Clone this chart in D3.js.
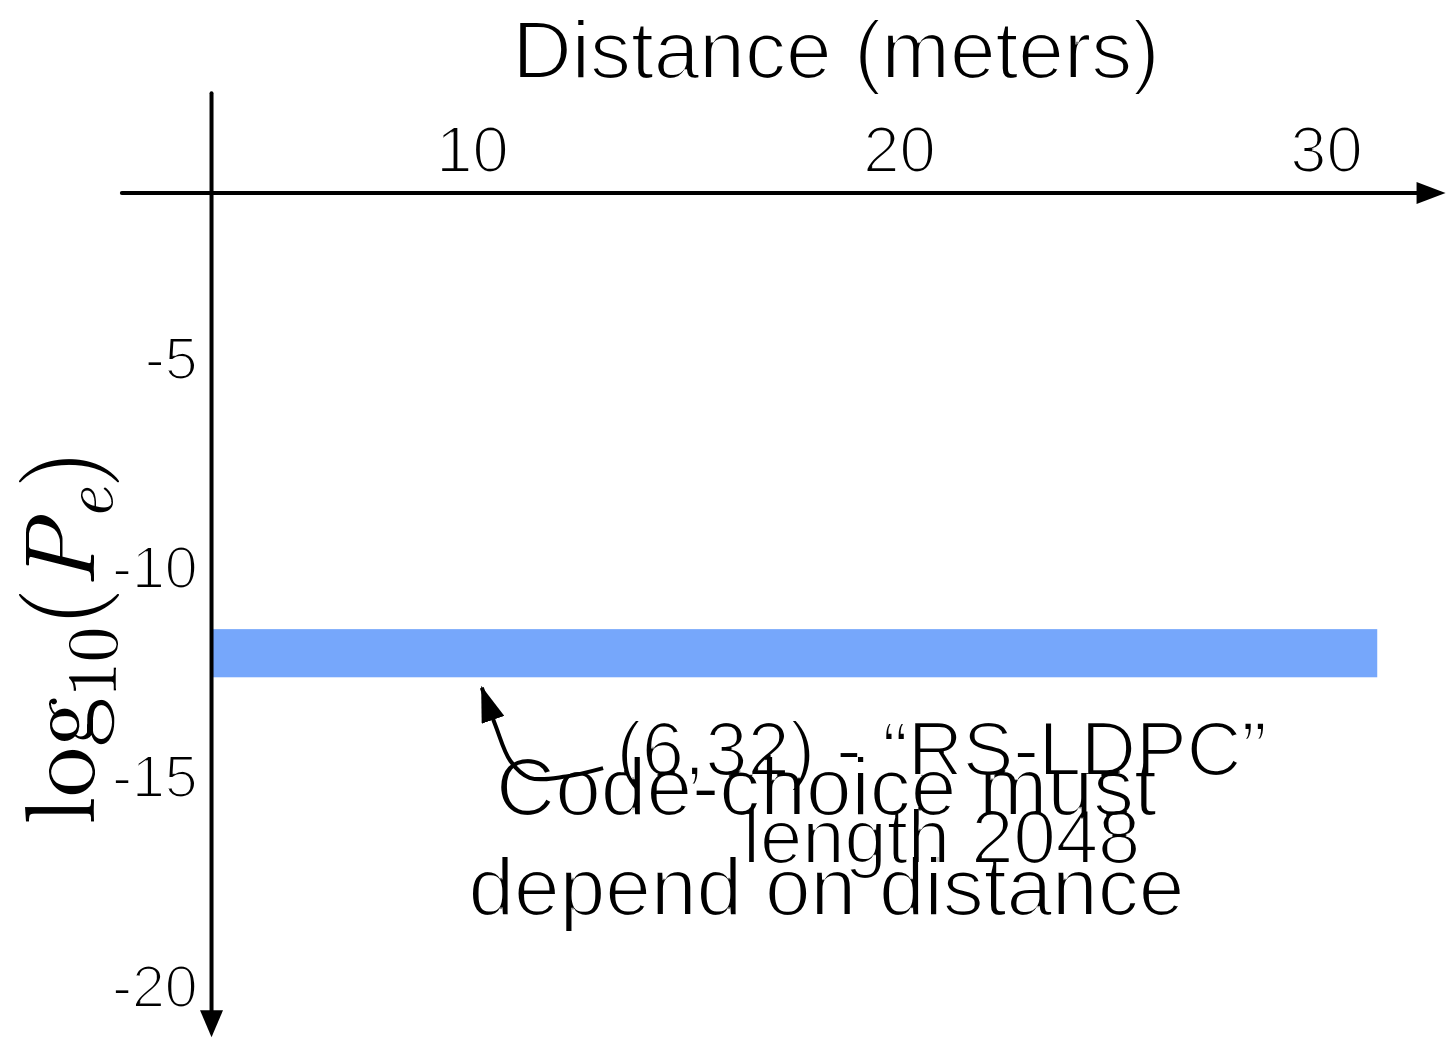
<!DOCTYPE html>
<html>
<head>
<meta charset="utf-8">
<script src="https://cdn.jsdelivr.net/npm/d3@7"></script>
<style>
  html, body { margin: 0; padding: 0; background: #fff; }
  svg { display: block; }
  .sans { font-family: "Helvetica Neue", Helvetica, "Liberation Sans", Arial, sans-serif; fill: #000; }
</style>
</head>
<body>
<svg id="chart" width="1450" height="1039"></svg>
<script>
// ---- data ----
const xTicks = [10, 20, 30];
const yTicks = [-5, -10, -15, -20];
const xTitle = "Distance (meters)";
// blue band: distance range and log10(Pe) range
const bandX = [3.9, 31.2];
const bandY = [-11.5, -12.65];
// axis extents (data units) and crossing values
const xAxisExtent = [1.8, 32.8];
const yAxisExtent = [1.3, -21.2];
const xAxisAtY = -1.08;
const yAxisAtX = 3.9;
// annotation arrow path (data units)
const arrowX = [13.07, 12.2, 11.35, 10.9, 10.55, 10.23];
const arrowY = [-14.82, -15.02, -15.05, -14.65, -13.8, -12.9];
const label1 = ["(6,32) - \u201CRS-LDPC\u201D", "length 2048"];
const label1Pos = [21.0, -14.98];
const label2 = ["Code-choice must", "depend on distance"];
const label2Pos = [18.3, -15.94];

const svg = d3.select("#chart");
const x = d3.scaleLinear().domain([10, 30]).range([472, 1326]);
const y = d3.scaleLinear().domain([-5, -20]).range([357, 985]);

const defs = svg.append("defs");
const thin = defs.append("filter").attr("id", "thin")
  .attr("x", "-5%").attr("y", "-5%").attr("width", "110%").attr("height", "110%");
thin.append("feMorphology").attr("operator", "erode").attr("radius", 0.9);

// band
svg.append("rect")
  .attr("x", x(bandX[0])).attr("width", x(bandX[1]) - x(bandX[0]))
  .attr("y", y(bandY[0])).attr("height", y(bandY[1]) - y(bandY[0]))
  .attr("fill", "#76a7fb");

// axis lines with arrowheads
const ax0 = y(xAxisAtY), ay0 = x(yAxisAtX);
svg.append("line")
  .attr("x1", x(xAxisExtent[0])).attr("x2", x(xAxisExtent[1]) - 20)
  .attr("y1", ax0).attr("y2", ax0)
  .attr("stroke", "#000").attr("stroke-width", 4).attr("stroke-linecap", "round");
const xEnd = x(xAxisExtent[1]);
svg.append("path")
  .attr("d", `M${xEnd},${ax0} L${xEnd - 29},${ax0 - 11} L${xEnd - 29},${ax0 + 11} Z`)
  .attr("fill", "#000");
svg.append("line")
  .attr("x1", ay0).attr("x2", ay0)
  .attr("y1", y(yAxisExtent[0])).attr("y2", y(yAxisExtent[1]) - 20)
  .attr("stroke", "#000").attr("stroke-width", 4).attr("stroke-linecap", "round");
const yEnd = y(yAxisExtent[1]);
svg.append("path")
  .attr("d", `M${ay0},${yEnd + 2} L${ay0 - 11.5},${yEnd - 25} L${ay0 + 11.5},${yEnd - 25} Z`)
  .attr("fill", "#000");

// text layer (thinned to mimic a light face)
const tl = svg.append("g").attr("filter", "url(#thin)");

// tick labels via d3 axes
const gx = tl.append("g").attr("transform", `translate(0,${ax0})`)
  .call(d3.axisTop(x).tickValues(xTicks).tickSize(0).tickPadding(21).tickFormat(d => String(d)));
gx.select(".domain").remove();
gx.selectAll("text").attr("class", "sans").style("font-size", "65px").attr("fill", "#000");

const gy = tl.append("g").attr("transform", `translate(${ay0},0)`)
  .call(d3.axisLeft(y).tickValues(yTicks).tickSize(0).tickPadding(14).tickFormat(d => String(d)));
gy.select(".domain").remove();
gy.selectAll("text").attr("class", "sans").style("font-size", "59px").attr("fill", "#000").attr("dy", "0.36em");

// title
tl.append("text").attr("class", "sans")
  .attr("x", 836).attr("y", 78).attr("text-anchor", "middle")
  .style("font-size", "82px").text(xTitle);

// annotation labels
const t1 = tl.append("text").attr("class", "sans").attr("text-anchor", "middle")
  .style("font-size", "76px");
label1.forEach((s, i) => t1.append("tspan").attr("x", x(label1Pos[0]))
  .attr("y", y(label1Pos[1]) + i * 88).text(s));
const t2 = tl.append("text").attr("class", "sans").attr("text-anchor", "middle")
  .style("font-size", "82px");
label2.forEach((s, i) => t2.append("tspan").attr("x", x(label2Pos[0]))
  .attr("y", y(label2Pos[1]) + i * 100).text(s));

// y-axis label (LaTeX-like)
const yl = svg.append("text")
  .attr("transform", "translate(94,637) rotate(-90)")
  .attr("text-anchor", "middle")
  .style("font-family", "'Latin Modern Roman', 'CMU Serif', 'Liberation Serif', 'DejaVu Serif', serif")
  .style("font-size", "100px").attr("fill", "#000");
yl.append("tspan").text("log");
yl.append("tspan").attr("dy", 22).style("font-size", "70px").text("10");
yl.append("tspan").attr("dy", -22).text("(");
yl.append("tspan").style("font-style", "italic").text("P");
yl.append("tspan").attr("dy", 18).style("font-style", "italic").style("font-size", "70px").text("e");
yl.append("tspan").attr("dy", -18).text(")");

// annotation arrow
defs.append("marker")
  .attr("id", "ah").attr("markerUnits", "userSpaceOnUse")
  .attr("viewBox", "0 0 36 24").attr("refX", 34).attr("refY", 12)
  .attr("markerWidth", 36).attr("markerHeight", 24).attr("orient", "auto")
  .append("path").attr("d", "M0,0 L36,12 L0,24 Z").attr("fill", "#000");
const pts = arrowX.map((v, i) => [v, arrowY[i]]);
svg.append("path")
  .attr("d", d3.line().x(d => x(d[0])).y(d => y(d[1])).curve(d3.curveCatmullRom)(pts))
  .attr("fill", "none").attr("stroke", "#000").attr("stroke-width", 4)
  .attr("marker-end", "url(#ah)");
</script>
</body>
</html>
